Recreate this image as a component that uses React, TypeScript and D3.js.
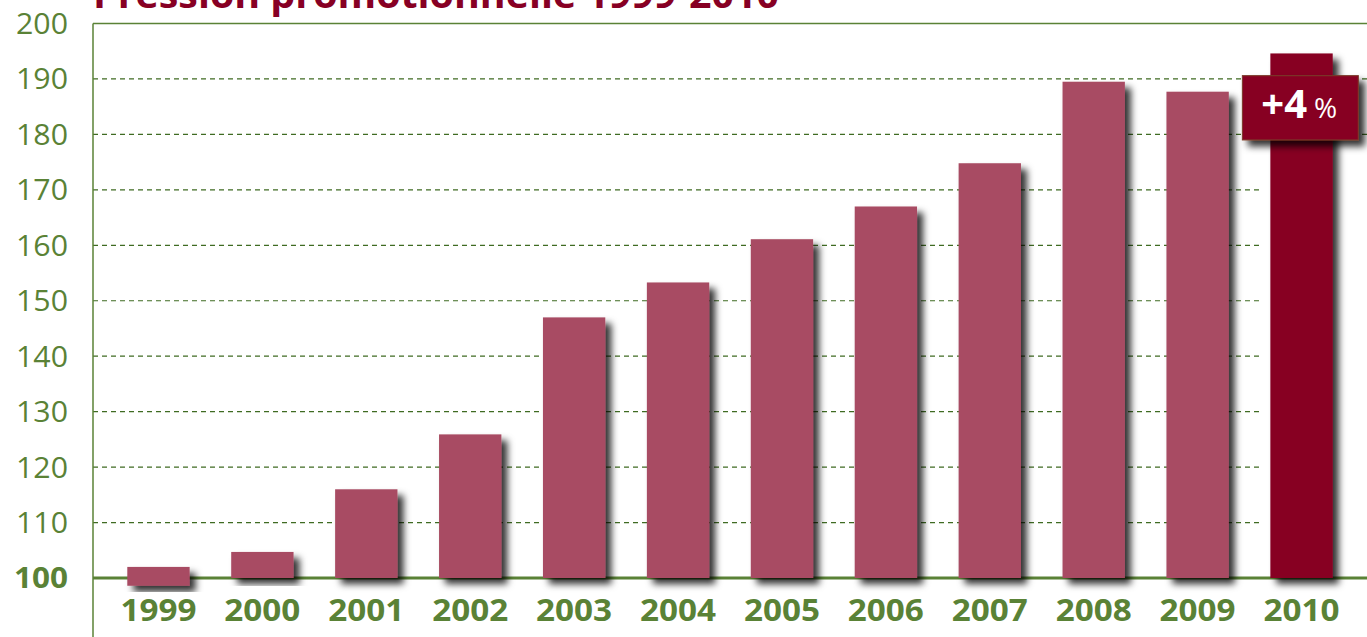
import React from 'react';
import * as d3 from 'd3';

const years = ['1999', '2000', '2001', '2002', '2003', '2004', '2005', '2006', '2007', '2008', '2009', '2010'];
const highs = [102.0, 104.7, 116.0, 125.9, 147.0, 153.3, 161.1, 167.0, 174.8, 189.5, 187.7, 194.6];
const lows = [98.6, 100, 100, 100, 100, 100, 100, 100, 100, 100, 100, 100];
const yTicks = [100, 110, 120, 130, 140, 150, 160, 170, 180, 190, 200];
const highlightYear = '2010';
const badgeMain = '+4';
const badgeUnit = '%';
const title = 'Pression promotionnelle 1999-2010';

const W = 1367;
const H = 637;
const left = 93;

const GREEN = '#5a8236';
const GRID = '#3f6b22';
const BAR = '#a84c63';
const DARK = '#870024';

export default function App() {
  const x = d3.scaleBand<string>().domain(years).range([left, W]).paddingInner(0.4).paddingOuter(0.33);
  const y = d3.scaleLinear().domain([100, 200]).range([578, 23.5]);

  const hx = x(highlightYear)!;

  return (
    <svg width={W} height={H} style={{ position: 'absolute', left: 0, top: 0, background: '#fff' }}
      fontFamily="'Open Sans', 'DejaVu Sans', sans-serif">
      <defs>
        <filter id="shadow" x="-20%" y="-20%" width="150%" height="150%">
          <feDropShadow dx="6" dy="6" stdDeviation="3.5" floodColor="#000" floodOpacity="0.8" />
        </filter>
      </defs>

      {/* title, cut off at the top as in the source */}
      <text x={left} y={8} fill={DARK} fontSize={38} fontWeight="bold" textLength={686}
        lengthAdjust="spacingAndGlyphs">{title}</text>

      {/* grid */}
      {yTicks.filter(t => t > 100 && t < 200).map(t => (
        <line key={t} x1={left} x2={t >= 180 ? W : 1260} y1={y(t)} y2={y(t)}
          stroke={GRID} strokeWidth={1.2} strokeDasharray="5,4" />
      ))}
      <line x1={left} x2={W} y1={y(200)} y2={y(200)} stroke={GREEN} strokeWidth={1.5} />
      <line x1={left} x2={W} y1={y(100)} y2={y(100)} stroke={GREEN} strokeWidth={3} />
      <line x1={left} x2={left} y1={y(200)} y2={H} stroke={GREEN} strokeWidth={1.5} />

      {/* y labels */}
      {yTicks.map(t => (
        <text key={t} x={68} y={y(t)} dy="0.36em" textAnchor="end" fill={GREEN}
          fontSize={29} fontWeight={t === 100 ? 'bold' : 'normal'} textLength={t === 100 ? 54 : 52}
          lengthAdjust="spacingAndGlyphs">{t}</text>
      ))}

      {/* bars */}
      {years.map((yr, i) => (
        <rect key={yr} x={x(yr)} y={y(highs[i])} width={x.bandwidth()} height={y(lows[i]) - y(highs[i])}
          fill={yr === highlightYear ? DARK : BAR} filter="url(#shadow)" />
      ))}

      {/* x labels */}
      {years.map(yr => (
        <text key={yr} x={x(yr)! + x.bandwidth() / 2} y={610} dy="0.36em" textAnchor="middle"
          fill={GREEN} fontSize={31} fontWeight="bold" textLength={76}
          lengthAdjust="spacingAndGlyphs">{yr}</text>
      ))}

      {/* badge */}
      <g filter="url(#shadow)">
        <rect x={hx - 28} y={y(190.6)} width={116} height={y(179) - y(190.6)} fill={DARK}
          stroke="#7a3a2a" strokeWidth={1} />
      </g>
      <text x={hx - 9} y={y(183)} fill="#fff">
        <tspan fontSize={40} fontWeight="bold">{badgeMain}</tspan>
        <tspan fontSize={28} dx={7}>{badgeUnit}</tspan>
      </text>
    </svg>
  );
}
